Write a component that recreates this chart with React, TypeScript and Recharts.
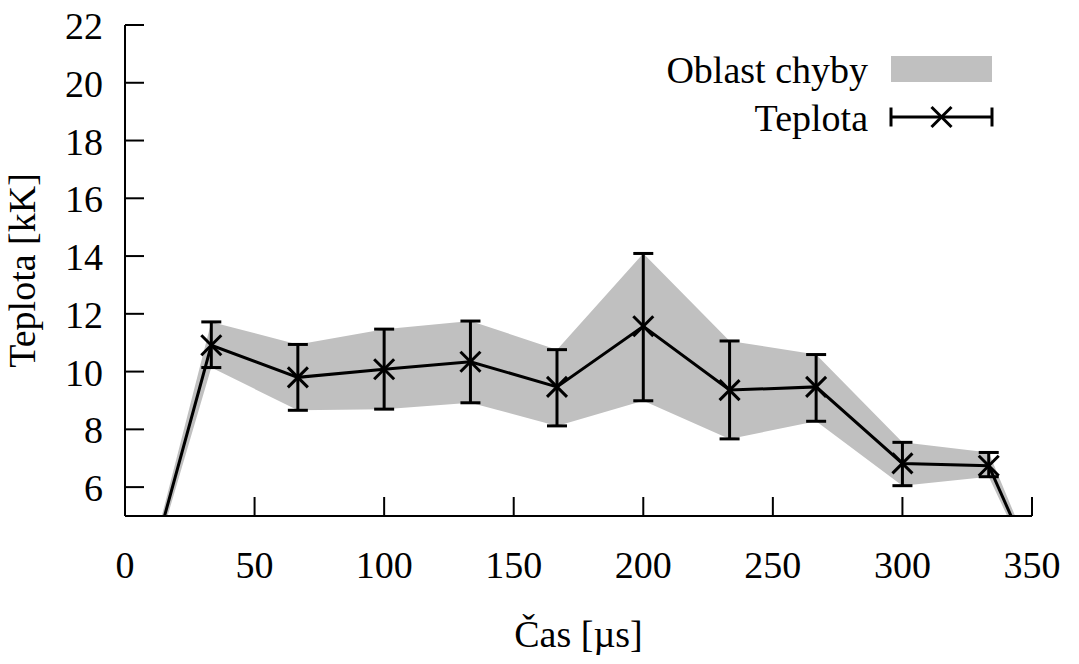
import React from 'react';
import {
  ComposedChart, Line, Area, XAxis, YAxis, ErrorBar, Legend, Label,
} from 'recharts';

// Časy měření [µs] a teplota [kK] s dolní / horní mezí chyby
const casUs = [0, 33.3, 66.7, 100, 133.3, 166.7, 200, 233.3, 266.7, 300, 333.3, 366.7];
const teplota = [0, 10.91, 9.8, 10.08, 10.34, 9.47, 11.57, 9.36, 9.47, 6.82, 6.74, 0];
const dolniMez = [0, 10.14, 8.66, 8.7, 8.92, 8.12, 8.99, 7.67, 8.28, 6.05, 6.36, 0];
const horniMez = [0, 11.72, 10.94, 11.47, 11.75, 10.76, 14.09, 11.06, 10.59, 7.55, 7.2, 0];

const xTicks = [0, 50, 100, 150, 200, 250, 300, 350];
const yTicks = [6, 8, 10, 12, 14, 16, 18, 20, 22];

const FONT = "'Liberation Serif', 'Times New Roman', Times, 'DejaVu Serif', serif";
const FS = 38;
const TICK = 19;
const SEDA = '#c0c0c0';
const txt = { fontFamily: FONT, fontSize: FS, fill: '#000' };

const data = casUs.map((t, i) => ({
  t,
  teplota: teplota[i],
  pas: [dolniMez[i], horniMez[i]],
  chyba: horniMez[i] > dolniMez[i]
    ? [teplota[i] - dolniMez[i], horniMez[i] - teplota[i]]
    : null,
}));

const Krizek = ({ cx, cy, s = 10 }: { cx: number; cy: number; s?: number }) => (
  <g>
    <line x1={cx - s} y1={cy - s} x2={cx + s} y2={cy + s} stroke="#000" strokeWidth={3} />
    <line x1={cx - s} y1={cy + s} x2={cx + s} y2={cy - s} stroke="#000" strokeWidth={3} />
  </g>
);

const renderDot = (p: any) => {
  if (p.cx == null || p.payload.teplota < 5) return <g key={p.index} />;
  return <Krizek key={p.index} cx={p.cx} cy={p.cy} />;
};

const TickDole = ({ x, y, payload }: any) => (
  <g>
    <line x1={x} y1={y} x2={x} y2={y - TICK} stroke="#000" strokeWidth={2} />
    <text x={x} y={y + 62} textAnchor="middle" style={txt}>
      {payload.value}
    </text>
  </g>
);

const TickNahore = ({ x, y }: any) => (
  <line x1={x} y1={y} x2={x} y2={y + TICK} stroke="#000" strokeWidth={2} />
);

const TickVlevo = ({ x, y, payload }: any) => (
  <g>
    <line x1={x} y1={y} x2={x + TICK} y2={y} stroke="#000" strokeWidth={2} />
    <text x={x - 22} y={y + 14} textAnchor="end" style={txt}>
      {payload.value}
    </text>
  </g>
);

const TickVpravo = ({ x, y }: any) => (
  <line x1={x} y1={y} x2={x - TICK} y2={y} stroke="#000" strokeWidth={2} />
);

const Legenda = () => (
  <svg width={420} height={110} style={{ display: 'block' }}>
    <text x={268} y={43} textAnchor="end" style={txt}>Oblast chyby</text>
    <rect x={291} y={16} width={101} height={26} fill={SEDA} />
    <text x={268} y={91} textAnchor="end" style={txt}>Teplota</text>
    <line x1={291} y1={77} x2={392} y2={77} stroke="#000" strokeWidth={3} />
    <line x1={291} y1={67.5} x2={291} y2={86.5} stroke="#000" strokeWidth={3} />
    <line x1={392} y1={67.5} x2={392} y2={86.5} stroke="#000" strokeWidth={3} />
    <Krizek cx={341.5} cy={77} s={10} />
  </svg>
);

export default function App() {
  return (
    <div style={{ position: 'absolute', left: 0, top: 0, background: '#fff', fontFamily: FONT }}>
      <ComposedChart
        width={1079}
        height={664}
        data={data}
        margin={{ top: 25, right: 47, bottom: 88, left: 25 }}
      >
        <XAxis
          dataKey="t" type="number" domain={[0, 350]} ticks={xTicks} allowDataOverflow
          height={60} tickSize={0} tickMargin={0} tick={<TickDole />}
          axisLine={{ stroke: '#000', strokeWidth: 2 }}
        >
          <Label
            content={({ viewBox }: any) => (
              <text
                x={viewBox.x + viewBox.width / 2} y={viewBox.y + 131}
                textAnchor="middle" style={txt}
              >
                Čas [µs]
              </text>
            )}
          />
        </XAxis>
        <XAxis
          xAxisId="top" orientation="top" dataKey="t" type="number" domain={[0, 350]}
          ticks={xTicks} allowDataOverflow height={0} tickSize={0} tickMargin={0}
          tick={<TickNahore />} axisLine={{ stroke: '#000', strokeWidth: 2 }}
        />
        <YAxis
          type="number" domain={[5, 22]} ticks={yTicks} allowDataOverflow width={100}
          tickSize={0} tickMargin={0} tick={<TickVlevo />}
          axisLine={{ stroke: '#000', strokeWidth: 2 }}
        >
          <Label
            content={({ viewBox }: any) => {
              const cx = viewBox.x + 10;
              const cy = viewBox.y + viewBox.height / 2;
              return (
                <text
                  x={cx} y={cy} transform={`rotate(-90, ${cx}, ${cy})`}
                  textAnchor="middle" style={txt}
                >
                  Teplota [kK]
                </text>
              );
            }}
          />
        </YAxis>
        <YAxis
          yAxisId="right" orientation="right" type="number" domain={[5, 22]} ticks={yTicks}
          allowDataOverflow width={0} tickSize={0} tickMargin={0} tick={<TickVpravo />}
          axisLine={{ stroke: '#000', strokeWidth: 2 }}
        />
        <Legend
          layout="horizontal" verticalAlign="middle" align="center"
          content={() => <Legenda />}
          wrapperStyle={{ left: 600, top: 40, width: 420, height: 110 }}
        />
        <Area
          type="linear" dataKey="pas" fill={SEDA} fillOpacity={1} stroke="none"
          isAnimationActive={false} activeDot={false}
        />
        <Line
          type="linear" dataKey="teplota" stroke="#000" strokeWidth={3}
          dot={renderDot} activeDot={false} isAnimationActive={false}
        >
          <ErrorBar dataKey="chyba" width={10} stroke="#000" strokeWidth={3} isAnimationActive={false} />
        </Line>
      </ComposedChart>
    </div>
  );
}
